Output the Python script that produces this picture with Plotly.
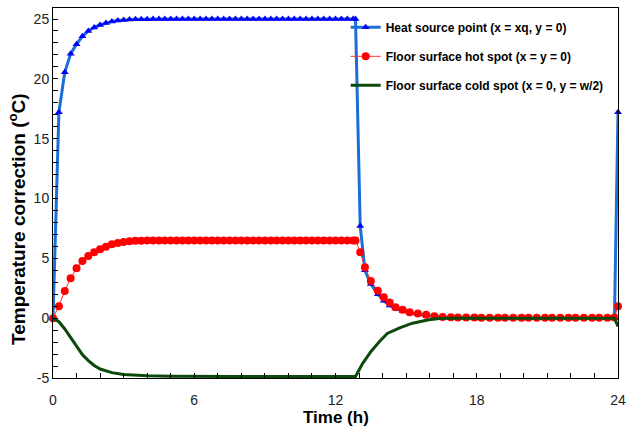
import plotly.graph_objects as go

# Time points (h) shared by the heat-source and hot-spot series
time_h = [0, 0.25, 0.5, 0.75, 1.0, 1.25, 1.5, 1.75, 2.0, 2.25, 2.5, 2.75, 3.0, 3.25, 3.5, 3.75,
          4.0, 4.25, 4.5, 4.75, 5.0, 5.25, 5.5, 5.75, 6.0, 6.25, 6.5, 6.75, 7.0, 7.25, 7.5, 7.75,
          8.0, 8.25, 8.5, 8.75, 9.0, 9.25, 9.5, 9.75, 10.0, 10.25, 10.5, 10.75, 11.0, 11.25, 11.5, 11.75,
          12.0, 12.25, 12.5, 12.75, 12.85,
          13.05, 13.25, 13.5, 13.8, 14.05, 14.3, 14.55, 14.85, 15.15, 15.5, 15.85, 16.2, 16.55,
          16.9, 17.2, 17.55, 17.9, 18.2, 18.55, 18.9, 19.2, 19.55, 19.9, 20.2, 20.55, 20.9, 21.2,
          21.55, 21.9, 22.2, 22.55, 22.9, 23.2, 23.55, 23.85, 24.0]

heat_source = [0, 17.2, 20.55, 22.1, 22.9, 23.55, 24.0, 24.3, 24.5, 24.67, 24.8, 24.87, 24.92, 24.95, 24.97, 24.98,
               24.99, 25.0, 25.0, 25.0, 25.0, 25.0, 25.0, 25.0, 25.0, 25.0, 25.0, 25.0, 25.0, 25.0, 25.0, 25.0,
               25.0, 25.0, 25.0, 25.0, 25.0, 25.0, 25.0, 25.0, 25.0, 25.0, 25.0, 25.0, 25.0, 25.0, 25.0, 25.0,
               25.0, 25.0, 25.0, 25.0, 25.0,
               7.7, 4.0, 2.86, 2.0, 1.45, 1.05, 0.8, 0.6, 0.42, 0.32, 0.22, 0.12, 0.08,
               0.05, 0.04, 0.03, 0.02, 0.02, 0.01, 0.01, 0.01, 0, 0, 0, 0, 0, 0,
               0, 0, 0, 0, 0, 0, 0, 0, 17.2]

hot_spot = [0, 1.0, 2.27, 3.33, 4.17, 4.78, 5.19, 5.5, 5.75, 5.97, 6.17, 6.28, 6.36, 6.42, 6.46, 6.48,
            6.5, 6.5, 6.5, 6.5, 6.5, 6.5, 6.5, 6.5, 6.5, 6.5, 6.5, 6.5, 6.5, 6.5, 6.5, 6.5,
            6.5, 6.5, 6.5, 6.5, 6.5, 6.5, 6.5, 6.5, 6.5, 6.5, 6.5, 6.5, 6.5, 6.5, 6.5, 6.5,
            6.5, 6.5, 6.5, 6.5, 6.5,
            5.5, 4.25, 3.1, 2.3, 1.75, 1.3, 0.92, 0.7, 0.5, 0.4, 0.28, 0.15, 0.1,
            0.07, 0.06, 0.05, 0.05, 0.04, 0.04, 0.04, 0.04, 0.04, 0.04, 0.04, 0.04, 0.04, 0.04,
            0.04, 0.04, 0.04, 0.04, 0.04, 0.04, 0.04, 0.05, 1.0]

# Cold spot (line only)
cold_time = [0, 0.25, 0.5, 0.75, 1.0, 1.25, 1.5, 1.75, 2.0, 2.5, 3.0, 3.5, 4.0, 5.0, 6.0, 8.0, 10.0, 12.85,
             13.15, 13.5, 13.86, 14.2, 14.7, 15.27, 15.97, 16.4, 17.0, 20.0, 23.85, 24.0]
cold_spot = [0, -0.3, -0.9, -1.6, -2.35, -3.05, -3.55, -3.95, -4.25, -4.55, -4.7, -4.78, -4.82, -4.86, -4.88, -4.88, -4.88, -4.88,
             -3.8, -2.8, -1.97, -1.28, -0.83, -0.42, -0.14, -0.03, 0, 0, 0, -0.7]

x_tickvals = [0, 6, 12, 18, 24]
x_ticktext = ["0", "6", "12", "18", "24"]
y_tickvals = [-5, 0, 5, 10, 15, 20, 25]
y_ticktext = ["-5", "0", "5", "10", "15", "20", "25"]

fig = go.Figure()
fig.add_trace(go.Scatter(
    x=time_h, y=heat_source, mode="lines+markers", name="<b>Heat source point (x = xq, y = 0)</b>",
    line=dict(color="#1a6fd6", width=3),
    marker=dict(symbol="triangle-up", size=7, color="#0000ff"),
    cliponaxis=False, legendgroup="a"))
fig.add_trace(go.Scatter(
    x=time_h, y=hot_spot, mode="lines+markers", name="<b>Floor surface hot spot (x = y = 0)</b>",
    line=dict(color="#ff3030", width=1),
    marker=dict(symbol="circle", size=8, color="#ff0000"),
    cliponaxis=False, legendgroup="b"))
fig.add_trace(go.Scatter(
    x=cold_time, y=cold_spot, mode="lines", name="<b>Floor surface cold spot (x = 0, y = w/2)</b>",
    line=dict(color="#0b4a0b", width=3),
    legendgroup="c"))

axis_common = dict(
    showline=True, linecolor="black", linewidth=1, mirror=True,
    showgrid=False, zeroline=False, ticks="inside", ticklen=5, tickcolor="black",
    tickfont=dict(family="Arial", size=14, color="#222"),
)

fig.update_layout(
    width=633, height=426,
    margin=dict(l=53, r=13, t=7, b=48),
    paper_bgcolor="white", plot_bgcolor="white",
    font=dict(family="Arial", color="black"),
    xaxis=dict(range=[0, 24], tickmode="array", tickvals=x_tickvals, ticktext=x_ticktext,
               minor=dict(dtick=1, ticks="inside", ticklen=5, tickcolor="black"),
               ticklabelstandoff=9,
               **axis_common),
    yaxis=dict(range=[-5, 25.92], tickmode="array", tickvals=y_tickvals, ticktext=y_ticktext,
               minor=dict(dtick=1, ticks="inside", ticklen=5, tickcolor="black"),
               **axis_common),
    legend=dict(x=0.518, y=0.987, xanchor="left", yanchor="top", bgcolor="rgba(0,0,0,0)",
                font=dict(family="Arial", size=12, color="black"), tracegroupgap=10,
                itemwidth=30),
    showlegend=True,
    annotations=[
        dict(text="<b>Time (h)</b>", xref="paper", yref="paper", x=0.5, y=-0.107,
             xanchor="center", yanchor="middle", showarrow=False,
             font=dict(size=17, family="Arial", color="black")),
        dict(text="<b>Temperature correction (<sup>o</sup>C)</b>", xref="paper", yref="paper",
             x=-0.0635, y=0.43, xanchor="center", yanchor="middle", textangle=-90, showarrow=False,
             font=dict(size=19, family="Arial", color="black")),
    ],
)

fig.write_html("out.html")
